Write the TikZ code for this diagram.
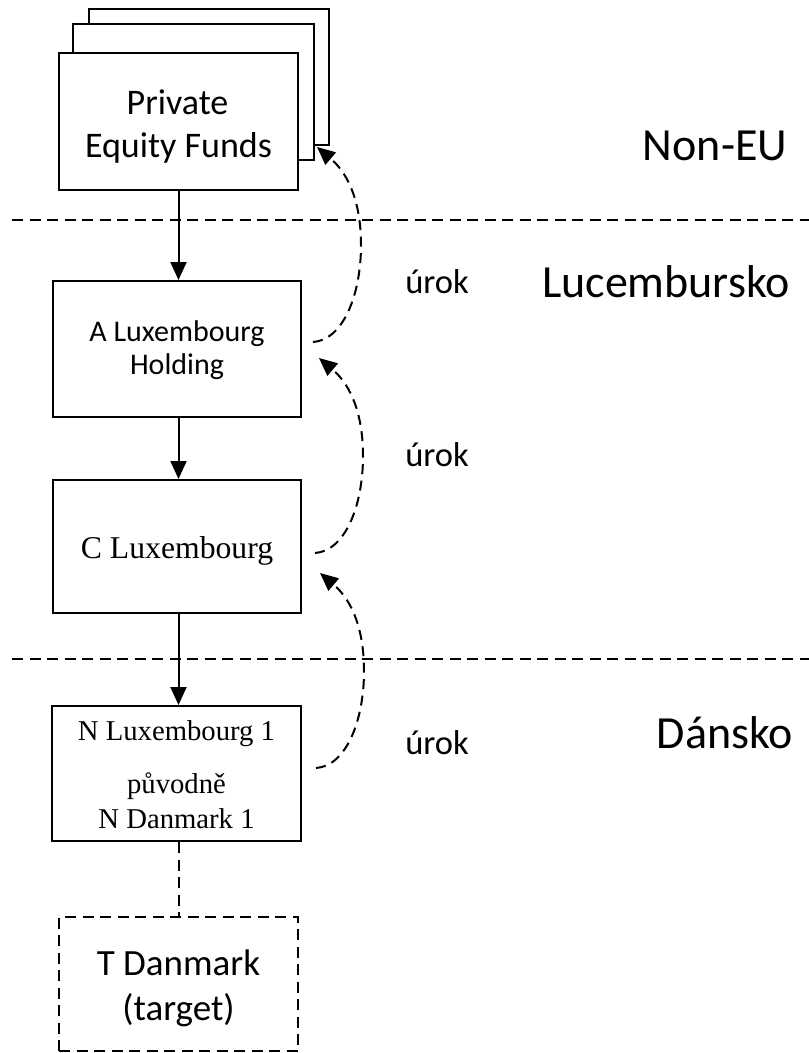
\documentclass[tikz,border=0pt]{standalone}
\usepackage{fontspec}
\setmainfont{Carlito}
\newfontfamily\serifface{Liberation Serif}
\usetikzlibrary{arrows.meta,calc}
\begin{document}
\begin{tikzpicture}[x=1pt,y=-1pt,
  box/.style={draw, line width=2pt, fill=white, rectangle, inner sep=0pt},
  dashedbox/.style={box, dash pattern=on 11pt off 6.5pt},
  arr/.style={line width=2pt, -{Triangle[length=18pt,width=16pt]}},
  dashline/.style={line width=2pt, dash pattern=on 11pt off 6.5pt},
  flow/.style={line width=2pt, dash pattern=on 10pt off 6.5pt, -{Triangle[length=18pt,width=16pt]}},
  txt/.style={anchor=base, inner sep=0pt},
  fundfont/.style={font=\fontsize{36}{43}\selectfont},
  holdfont/.style={font=\fontsize{30}{36}\selectfont},
  cfont/.style={font=\serifface\fontsize{31.7}{38}\selectfont},
  nfont/.style={font=\serifface\fontsize{28.7}{34}\selectfont},
  tfont/.style={font=\fontsize{37}{44}\selectfont},
  urokfont/.style={font=\fontsize{34.5}{41}\selectfont},
  regionfont/.style={font=\fontsize{46}{55}\selectfont}
]
\useasboundingbox (0,0) rectangle (809,1053);

% jurisdiction borders
\draw[dashline] (12,220) -- (809,220);
\draw[dashline] (12,659) -- (809,659);

% stacked fund boxes, back to front
\node[box, minimum width=240pt, minimum height=136pt] (pef3) at (209,77) {};
\node[box, minimum width=241pt, minimum height=136pt] (pef2) at (193.5,92) {};
\node[box, minimum width=239pt, minimum height=137pt] (pef) at (178.5,121.5) {};
\node[txt, fundfont] (pef-l1) at (177.5,114) {Private};
\node[txt, fundfont] (pef-l2) at (178.5,157) {Equity Funds};

% holding chain
\node[box, minimum width=248pt, minimum height=136pt] (alux) at (177,349) {};
\node[txt, holdfont] (alux-l1) at (177,341) {A Luxembourg};
\node[txt, holdfont] (alux-l2) at (177,374) {Holding};

\node[box, minimum width=248pt, minimum height=133pt] (clux) at (177,546.5) {};
\node[txt, cfont] (clux-l1) at (177,558) {C Luxembourg};

\node[box, minimum width=249pt, minimum height=135pt] (nlux) at (176.5,773.5) {};
\node[txt, nfont] (nlux-l1) at (176.5,740) {N Luxembourg 1};
\node[txt, nfont] (nlux-l2) at (176.5,793) {původně};
\node[txt, nfont] (nlux-l3) at (176.5,828) {N Danmark 1};

\node[dashedbox, minimum width=239pt, minimum height=134pt] (tdk) at (178.5,984) {};
\node[txt, tfont] (tdk-l1) at (178.5,975) {T Danmark};
\node[txt, tfont] (tdk-l2) at (178.5,1020) {(target)};

% ownership arrows
\draw[arr] (pef.south) -- (pef.south |- alux.north);
\draw[arr] (pef.south |- alux.south) -- (pef.south |- clux.north);
\draw[arr] (pef.south |- clux.south) -- (pef.south |- nlux.north);
\draw[dashline] (tdk.north |- nlux.south) -- (tdk.north);

% interest flows
\coordinate (c1s) at (313,342);
\coordinate (c1e) at (317,147);
\coordinate (c2s) at (315,553);
\coordinate (c2e) at (319,358);
\coordinate (c3s) at (316,768);
\coordinate (c3e) at (320,573);
\draw[flow] (c1s) .. controls +(30,-2) and +(0,50) .. ++(48,-97)
  .. controls +(0,-40) and +(33,28) .. (c1e);
\draw[flow] (c2s) .. controls +(30,-2) and +(0,50) .. ++(48,-97)
  .. controls +(0,-40) and +(33,28) .. (c2e);
\draw[flow] (c3s) .. controls +(30,-2) and +(0,50) .. ++(48,-97)
  .. controls +(0,-40) and +(33,28) .. (c3e);

\node[txt, urokfont] (u1) at (437,293) {úrok};
\node[txt, urokfont] (u2) at (437,466) {úrok};
\node[txt, urokfont] (u3) at (437,754) {úrok};

% jurisdiction names
\node[txt, regionfont] (r1) at (715,160) {Non-EU};
\node[txt, regionfont] (r2) at (666,297) {Lucembursko};
\node[txt, regionfont] (r3) at (725,748) {Dánsko};
\end{tikzpicture}
\end{document}
